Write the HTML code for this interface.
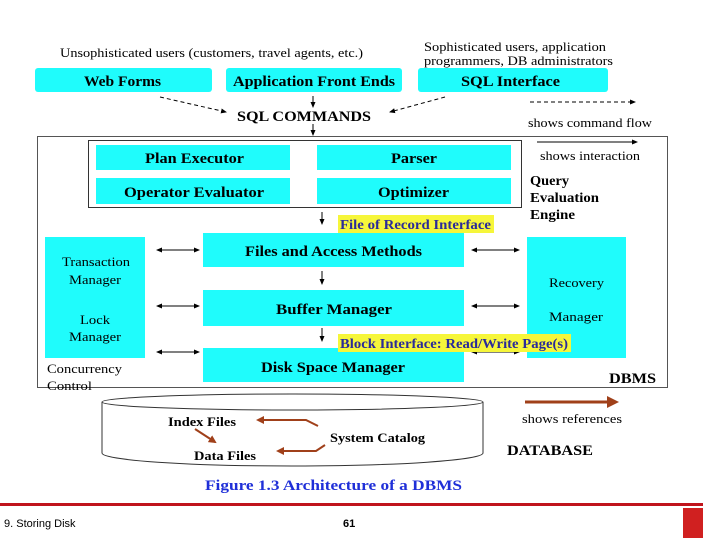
<!DOCTYPE html>
<html><head><meta charset="utf-8"><style>
html,body{margin:0;padding:0;background:#fff;width:703px;height:538px;overflow:hidden}
svg{display:block}
</style></head><body>
<svg width="703" height="538" viewBox="0 0 703 538" xmlns="http://www.w3.org/2000/svg" font-family="Liberation Serif, Times New Roman, serif">
<defs>
<marker id="ah" markerWidth="6" markerHeight="6" refX="5" refY="3" orient="auto" markerUnits="userSpaceOnUse"><path d="M0,0.5 L6,3 L0,5.5z" fill="#000"/></marker>
<marker id="ahs" markerWidth="6" markerHeight="6" refX="1" refY="3" orient="auto" markerUnits="userSpaceOnUse"><path d="M6,0.5 L0,3 L6,5.5z" fill="#000"/></marker>
<marker id="rh" markerWidth="4" markerHeight="4" refX="3" refY="2" orient="auto"><path d="M0,0 L4,2 L0,4z" fill="#a0401a"/></marker>
</defs>
<rect width="703" height="538" fill="#fff"/>
<g font-size="13" lengthAdjust="spacingAndGlyphs">
<text x="60" y="57" textLength="303" lengthAdjust="spacingAndGlyphs">Unsophisticated users (customers, travel agents, etc.)</text>
<text x="424" y="51" textLength="182" lengthAdjust="spacingAndGlyphs">Sophisticated users, application</text>
<text x="424" y="65" textLength="189" lengthAdjust="spacingAndGlyphs">programmers, DB administrators</text>
</g>
<rect x="35" y="68" width="177" height="24" rx="3" fill="#1ffcfc"/>
<rect x="226" y="68" width="176" height="24" rx="3" fill="#1ffcfc"/>
<rect x="418" y="68" width="190" height="24" rx="3" fill="#1ffcfc"/>
<g font-size="15" font-weight="bold">
<text x="84" y="86" textLength="77" lengthAdjust="spacingAndGlyphs">Web Forms</text>
<text x="233" y="86" textLength="162" lengthAdjust="spacingAndGlyphs">Application Front Ends</text>
<text x="461" y="86" textLength="99" lengthAdjust="spacingAndGlyphs">SQL Interface</text>
<text x="237" y="121" textLength="134" lengthAdjust="spacingAndGlyphs">SQL COMMANDS</text>
<text x="145" y="163" textLength="99" lengthAdjust="spacingAndGlyphs">Plan Executor</text>
<text x="391" y="163" textLength="46" lengthAdjust="spacingAndGlyphs">Parser</text>
<text x="124" y="197" textLength="140" lengthAdjust="spacingAndGlyphs">Operator Evaluator</text>
<text x="378" y="197" textLength="71" lengthAdjust="spacingAndGlyphs">Optimizer</text>
</g>
<line x1="160" y1="97" x2="226" y2="112" stroke="#000" stroke-dasharray="4,3" marker-end="url(#ah)"/>
<line x1="445" y1="97" x2="390" y2="112" stroke="#000" stroke-dasharray="4,3" marker-end="url(#ah)"/>
<line x1="313" y1="96" x2="313" y2="107" stroke="#000" marker-end="url(#ah)"/>
<line x1="313" y1="124" x2="313" y2="135" stroke="#000" marker-end="url(#ah)"/>
<line x1="530" y1="102" x2="635" y2="102" stroke="#000" stroke-dasharray="4,3" marker-end="url(#ah)"/>
<text x="528" y="127" font-size="13" textLength="124" lengthAdjust="spacingAndGlyphs">shows command flow</text>
<rect x="37.5" y="136.5" width="630" height="251" fill="none" stroke="#555"/>
<rect x="88.5" y="140.5" width="433" height="67" fill="none" stroke="#333"/>
<rect x="96" y="145" width="194" height="25" fill="#1ffcfc"/>
<rect x="317" y="145" width="194" height="25" fill="#1ffcfc"/>
<rect x="96" y="178" width="194" height="26" fill="#1ffcfc"/>
<rect x="317" y="178" width="194" height="26" fill="#1ffcfc"/>
<g font-size="15" font-weight="bold">
<text x="145" y="163" textLength="99" lengthAdjust="spacingAndGlyphs">Plan Executor</text>
<text x="391" y="163" textLength="46" lengthAdjust="spacingAndGlyphs">Parser</text>
<text x="124" y="197" textLength="140" lengthAdjust="spacingAndGlyphs">Operator Evaluator</text>
<text x="378" y="197" textLength="71" lengthAdjust="spacingAndGlyphs">Optimizer</text>
</g>
<line x1="537" y1="142" x2="637" y2="142" stroke="#000" marker-end="url(#ah)"/>
<text x="540" y="160" font-size="13" textLength="100" lengthAdjust="spacingAndGlyphs">shows interaction</text>
<g font-size="14" font-weight="bold">
<text x="530" y="185" textLength="39" lengthAdjust="spacingAndGlyphs">Query</text>
<text x="530" y="202" textLength="69" lengthAdjust="spacingAndGlyphs">Evaluation</text>
<text x="530" y="219" textLength="45" lengthAdjust="spacingAndGlyphs">Engine</text>
</g>
<line x1="322" y1="212" x2="322" y2="224" stroke="#000" marker-end="url(#ah)"/>
<rect x="45" y="237" width="100" height="121" fill="#1ffcfc"/>
<rect x="527" y="237" width="99" height="121" fill="#1ffcfc"/>
<rect x="203" y="233" width="261" height="34" fill="#1ffcfc"/>
<rect x="203" y="290" width="261" height="36" fill="#1ffcfc"/>
<rect x="203" y="348" width="261" height="34" fill="#1ffcfc"/>
<rect x="338" y="215" width="156" height="18" fill="#f6f63a"/>
<text x="340" y="229" font-size="14" font-weight="bold" fill="#2a2a9a" textLength="151" lengthAdjust="spacingAndGlyphs">File of Record Interface</text>
<g font-size="15" font-weight="bold">
<text x="245" y="256" textLength="177" lengthAdjust="spacingAndGlyphs">Files and Access Methods</text>
<text x="276" y="314" textLength="116" lengthAdjust="spacingAndGlyphs">Buffer Manager</text>
<text x="261" y="372" textLength="144" lengthAdjust="spacingAndGlyphs">Disk Space Manager</text>
</g>
<g font-size="13">
<text x="62" y="266" textLength="68" lengthAdjust="spacingAndGlyphs">Transaction</text>
<text x="69" y="284" textLength="52" lengthAdjust="spacingAndGlyphs">Manager</text>
<text x="80" y="324" textLength="30" lengthAdjust="spacingAndGlyphs">Lock</text>
<text x="69" y="341" textLength="52" lengthAdjust="spacingAndGlyphs">Manager</text>
<text x="549" y="287" textLength="55" lengthAdjust="spacingAndGlyphs">Recovery</text>
<text x="549" y="321" textLength="54" lengthAdjust="spacingAndGlyphs">Manager</text>
<text x="47" y="373" textLength="75" lengthAdjust="spacingAndGlyphs">Concurrency</text>
<text x="47" y="390" textLength="45" lengthAdjust="spacingAndGlyphs">Control</text>
</g>
<g stroke="#000" marker-end="url(#ah)" marker-start="url(#ahs)">
<line x1="157" y1="250" x2="199" y2="250"/>
<line x1="157" y1="306" x2="199" y2="306"/>
<line x1="157" y1="352" x2="199" y2="352"/>
<line x1="472" y1="250" x2="519" y2="250"/>
<line x1="472" y1="306" x2="519" y2="306"/>
<line x1="472" y1="352" x2="519" y2="352"/>
</g>
<line x1="322" y1="271" x2="322" y2="284" stroke="#000" marker-end="url(#ah)"/>
<line x1="322" y1="328" x2="322" y2="341" stroke="#000" marker-end="url(#ah)"/>
<rect x="338" y="334" width="233" height="18" fill="#f6f63a"/>
<text x="340" y="348" font-size="14" font-weight="bold" fill="#2a2a9a" textLength="228" lengthAdjust="spacingAndGlyphs">Block Interface: Read/Write Page(s)</text>
<text x="609" y="383" font-size="15" font-weight="bold" textLength="47" lengthAdjust="spacingAndGlyphs">DBMS</text>
<path d="M102,402 L102,453 A190.5,13 0 0 0 483,453 L483,402" fill="#fff" stroke="#333"/>
<ellipse cx="292.5" cy="402" rx="190.5" ry="8" fill="#fff" stroke="#333"/>
<g font-size="13" font-weight="bold">
<text x="168" y="426" textLength="68" lengthAdjust="spacingAndGlyphs">Index Files</text>
<text x="194" y="460" textLength="62" lengthAdjust="spacingAndGlyphs">Data Files</text>
<text x="330" y="442" textLength="95" lengthAdjust="spacingAndGlyphs">System Catalog</text>
</g>
<g stroke="#a0401a" stroke-width="2" fill="none">
<polyline points="318,426 306,420 258,420" marker-end="url(#rh)"/>
<polyline points="325,445 316,451 278,451" marker-end="url(#rh)"/>
<line x1="195" y1="429" x2="215" y2="442" marker-end="url(#rh)"/>
<line x1="525" y1="402" x2="616" y2="402" stroke-width="3" marker-end="url(#rh)"/>
</g>
<text x="522" y="423" font-size="13" textLength="100" lengthAdjust="spacingAndGlyphs">shows references</text>
<text x="507" y="455" font-size="15" font-weight="bold" textLength="86" lengthAdjust="spacingAndGlyphs">DATABASE</text>
<text x="205" y="490" font-size="15" font-weight="bold" fill="#1f2fd8" textLength="257" lengthAdjust="spacingAndGlyphs">Figure 1.3    Architecture of a DBMS</text>
<rect x="0" y="503" width="703" height="3" fill="#c0141c"/>
<text x="4" y="527" font-family="Liberation Sans, sans-serif" font-size="11">9. Storing Disk</text>
<text x="343" y="527" font-family="Liberation Sans, sans-serif" font-size="11" font-weight="bold">61</text>
<rect x="683" y="508" width="20" height="30" fill="#d02020"/>
</svg>
</body></html>
